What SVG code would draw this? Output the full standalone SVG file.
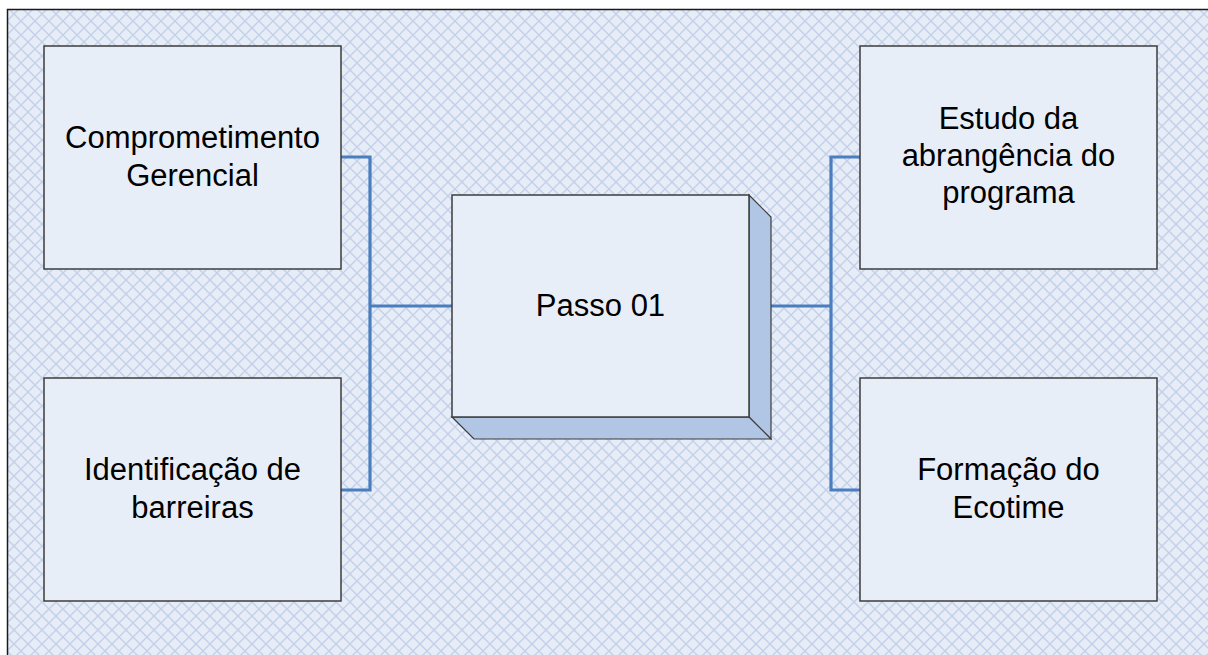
<svg xmlns="http://www.w3.org/2000/svg" width="1208" height="655" viewBox="0 0 1208 655">
  <defs>
    <pattern id="hatch" patternUnits="userSpaceOnUse" width="14" height="14">
      <rect width="14" height="14" fill="#e7edf7"/>
      <path d="M0 0 L14 14 M14 0 L0 14" stroke="#c2d0ea" stroke-width="1.4"/>
    </pattern>
    <style>
      .box { fill: #e8eef8; stroke: #3c3c3c; stroke-width: 1.5; }
      .side { fill: #b1c6e5; stroke: #3c3c3c; stroke-width: 1.2; stroke-linejoin: miter; }
      .lbl { font-family: "Liberation Sans", Arial, sans-serif; font-size: 31px; fill: #000; text-anchor: middle; }
      .conn { fill: none; stroke: #4a7ebf; stroke-width: 3.2; }
    </style>
  </defs>

  <rect x="0" y="0" width="1208" height="655" fill="#ffffff"/>
  <rect id="frame" x="7.5" y="9.5" width="1210" height="660" fill="url(#hatch)" stroke="#1a1a1a" stroke-width="1.5"/>

  <g id="connectors">
    <polyline class="conn" points="341,157 370,157 370,490 341,490"/>
    <line class="conn" x1="370" y1="306" x2="452" y2="306"/>
    <polyline class="conn" points="860,157 831,157 831,490 860,490"/>
    <line class="conn" x1="771" y1="306" x2="831" y2="306"/>
  </g>

  <g id="node-comprometimento">
    <rect class="box" x="44" y="46" width="297" height="223"/>
    <text class="lbl" x="192.5" y="148">Comprometimento</text>
    <text class="lbl" x="192.5" y="186">Gerencial</text>
  </g>

  <g id="node-identificacao">
    <rect class="box" x="44" y="378" width="297" height="223"/>
    <text class="lbl" x="192.5" y="480">Identificação de</text>
    <text class="lbl" x="192.5" y="518">barreiras</text>
  </g>

  <g id="node-passo">
    <polygon class="side" points="749,195 771,217 771,439 749,417"/>
    <polygon class="side" points="452,417 749,417 771,439 474,439"/>
    <rect class="box" x="452" y="195" width="297" height="222"/>
    <text class="lbl" x="600.5" y="316">Passo 01</text>
  </g>

  <g id="node-estudo">
    <rect class="box" x="860" y="46" width="297" height="223"/>
    <text class="lbl" x="1008.5" y="129">Estudo da</text>
    <text class="lbl" x="1008.5" y="166">abrangência do</text>
    <text class="lbl" x="1008.5" y="203">programa</text>
  </g>

  <g id="node-formacao">
    <rect class="box" x="860" y="378" width="297" height="223"/>
    <text class="lbl" x="1008.5" y="480">Formação do</text>
    <text class="lbl" x="1008.5" y="518">Ecotime</text>
  </g>
</svg>
